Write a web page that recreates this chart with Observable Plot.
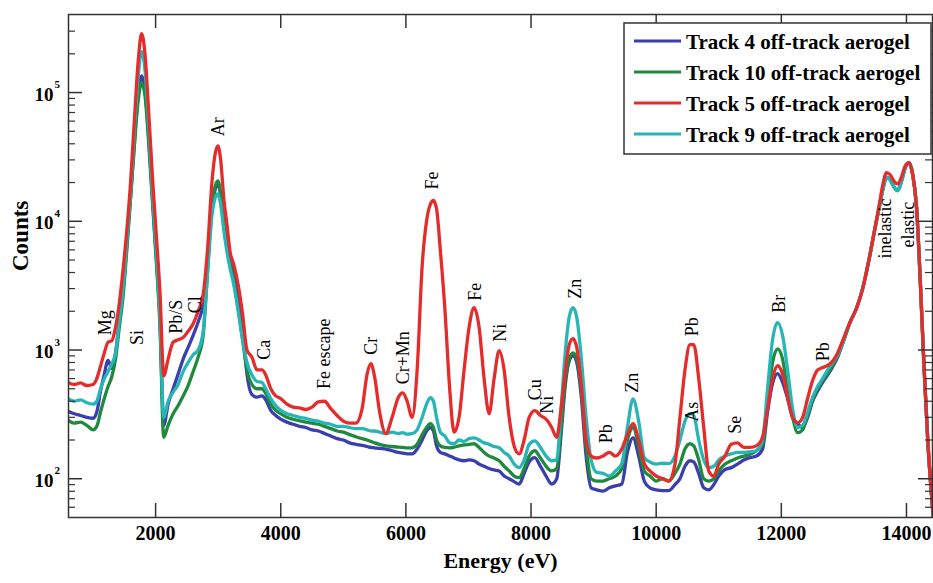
<!DOCTYPE html>
<html>
<head>
<meta charset="utf-8">
<script src="https://cdn.jsdelivr.net/npm/d3@7"></script>
<script src="https://cdn.jsdelivr.net/npm/@observablehq/plot@0.6"></script>
<style>
  html, body { margin: 0; padding: 0; background: #fff; }
  #chart { width: 933px; height: 583px; }
</style>
</head>
<body>
<div id="chart"></div>
<script>
// ---- Data ----
const energy = [
  600, 700, 800, 900, 1000, 1060, 1120, 1180, 1240, 1300,
  1360, 1420, 1480, 1540, 1600, 1660, 1720, 1776, 1830, 1890,
  1950, 2010, 2070, 2130, 2200, 2280, 2360, 2440, 2520, 2600,
  2680, 2760, 2830, 2900, 2950, 2995, 3040, 3090, 3140, 3190,
  3250, 3320, 3390, 3460, 3540, 3620, 3700, 3760, 3840, 3920,
  4000, 4100, 4200, 4300, 4400, 4500, 4600, 4700, 4800, 4900,
  5000, 5100, 5200, 5300, 5380, 5440, 5500, 5580, 5680, 5780,
  5880, 5950, 6020, 6100, 6180, 6260, 6330, 6390, 6440, 6490,
  6550, 6620, 6700, 6770, 6850, 6930, 7010, 7090, 7170, 7250,
  7330, 7410, 7490, 7570, 7650, 7730, 7810, 7890, 7970, 8060,
  8150, 8240, 8330, 8410, 8480, 8550, 8610, 8670, 8730, 8800,
  8880, 8960, 9050, 9150, 9250, 9350, 9450, 9540, 9630, 9720,
  9810, 9900, 10000, 10100, 10200, 10300, 10380, 10460, 10540, 10600,
  10680, 10760, 10840, 10920, 11000, 11100, 11200, 11300, 11400, 11500,
  11600, 11700, 11780, 11860, 11940, 12020, 12100, 12180, 12260, 12340,
  12420, 12500, 12580, 12660, 12740, 12820, 12900, 13000, 13100, 13200,
  13300, 13400, 13480, 13560, 13620, 13680, 13740, 13800, 13860, 13920,
  13980, 14040, 14100, 14160, 14220, 14280, 14340, 14400, 14460
];

// Track 4 off-track aerogel (blue)
const track4 = [
  335, 320, 310, 300, 295, 330, 480, 650, 830, 720,
  950, 1700, 2900, 6500, 15500, 40000, 95000, 135000, 105000, 45000,
  15000, 5300, 1700, 260, 380, 500, 650, 850, 1050, 1300,
  1650, 2300, 5000, 13000, 17500, 19500, 16000, 10000, 7500, 5400,
  4200, 2700, 1500, 650, 450, 430, 440, 410, 340, 310,
  290, 275, 265, 255, 250, 240, 235, 225, 215, 205,
  200, 190, 185, 182, 178, 175, 174, 172, 170, 165,
  160, 158, 156, 156, 170, 200, 235, 250, 235, 180,
  160, 156, 150, 145, 140, 138, 140, 138, 130, 125,
  120, 117, 115, 105, 100, 95, 91, 110, 135, 146,
  125, 105, 91, 100, 220, 550, 820, 900, 800, 450,
  150, 85, 82, 80, 85, 88, 91, 160, 208, 150,
  96, 85, 82, 81, 81, 90, 100, 125, 138, 135,
  110, 85, 82, 90, 105, 118, 122, 130, 140, 146,
  150, 170, 330, 550, 655, 560, 420, 300, 268, 250,
  300, 400, 480, 560, 640, 740, 880, 1200, 1650, 2100,
  3000, 5000, 8000, 12500, 17500, 21900, 21000, 18500, 17300, 20500,
  26000, 28500, 23000, 13000, 3500, 750, 200, 75, 35
];

// Track 10 off-track aerogel (green)
const track10 = [
  285, 270, 275, 260, 240, 255, 330, 420, 520, 620,
  850, 1500, 2600, 6000, 15000, 38000, 85000, 119000, 95000, 40000,
  14000, 5000, 1500, 210, 260, 320, 370, 440, 530, 680,
  880, 1300, 4000, 13000, 18500, 20600, 16500, 10000, 6800, 4800,
  3400, 2100, 1200, 700, 540, 500, 500, 460, 380, 340,
  320, 300, 290, 282, 275, 270, 265, 255, 245, 235,
  230, 220, 212, 205, 200, 195, 190, 185, 180, 178,
  176, 175, 174, 174, 185, 220, 250, 268, 250, 200,
  180, 175, 174, 176, 180, 183, 185, 187, 175, 160,
  150, 145, 138, 125, 115, 105, 102, 120, 150, 165,
  145, 125, 115, 120, 250, 600, 850, 950, 850, 500,
  180, 100, 96, 96, 100, 105, 120, 200, 250, 180,
  115, 105, 96, 100, 96, 110, 130, 170, 187, 180,
  140, 100, 96, 100, 115, 130, 138, 145, 150, 155,
  165, 185, 380, 800, 1020, 850, 480, 300, 228, 240,
  310, 410, 500, 580, 660, 760, 900, 1200, 1650, 2100,
  3000, 5000, 8000, 12500, 17500, 21900, 21000, 18500, 17300, 20500,
  26000, 28500, 23000, 13000, 3500, 750, 200, 75, 35
];

// Track 9 off-track aerogel (cyan)
const track9 = [
  420, 400, 410, 390, 380, 400, 500, 600, 680, 780,
  950, 1700, 3000, 7000, 17000, 50000, 130000, 208000, 150000, 55000,
  17000, 6000, 1800, 300, 400, 470, 540, 680, 800, 920,
  1000, 1400, 4000, 11000, 15000, 16300, 13500, 8500, 5800, 4300,
  3200, 2000, 1200, 800, 640, 570, 560, 500, 420, 370,
  340, 320, 310, 300, 295, 285, 280, 270, 265, 255,
  255, 250, 245, 245, 240, 235, 235, 230, 224, 230,
  225, 228, 222, 224, 240, 300, 380, 427, 400, 300,
  230, 215, 190, 187, 200, 195, 205, 208, 200, 190,
  185, 178, 174, 160, 150, 130, 122, 140, 185, 197,
  175, 150, 138, 140, 350, 1000, 1800, 2130, 1800, 900,
  300, 140, 112, 110, 105, 115, 131, 250, 418, 280,
  146, 135, 130, 132, 131, 150, 200, 280, 320, 310,
  200, 140, 122, 125, 140, 150, 156, 160, 160, 162,
  165, 200, 500, 1200, 1630, 1300, 700, 350, 250, 260,
  330, 430, 520, 600, 700, 800, 920, 1200, 1650, 2100,
  3000, 5000, 8000, 12500, 17500, 21900, 21000, 18500, 17300, 20500,
  26000, 28500, 23000, 13000, 3500, 750, 200, 75, 35
];

// Track 5 off-track aerogel (red)
const track5 = [
  560, 540, 555, 530, 540, 600, 750, 950, 1150, 1180,
  1500, 2300, 4200, 8500, 20000, 60000, 170000, 287000, 200000, 70000,
  22000, 8000, 2800, 630, 850, 1150, 1200, 1250, 1400, 1600,
  2000, 2700, 6000, 20000, 33000, 38600, 30000, 15000, 9500, 5800,
  4600, 3200, 1900, 1000, 880, 700, 700, 640, 500, 440,
  420, 380, 360, 355, 345, 360, 395, 400, 350, 310,
  280, 270, 270, 350, 650, 783, 620, 330, 224, 300,
  430, 465, 400, 300, 700, 4500, 10000, 13500, 14500, 12500,
  6000, 2200, 500, 230, 300, 700, 1500, 2130, 1500, 600,
  320, 600, 990, 700, 300, 180, 156, 200, 300, 338,
  310, 290, 250, 210, 350, 700, 1100, 1225, 1050, 550,
  200, 150, 145, 150, 160, 150, 170, 220, 268, 200,
  131, 115, 105, 100, 96, 130, 300, 700, 1100, 1100,
  600, 250, 115, 105, 130, 150, 185, 190, 175, 175,
  180, 210, 350, 600, 755, 650, 430, 300, 272, 300,
  420, 580, 700, 730, 760, 820, 950, 1250, 1650, 2100,
  3000, 5000, 8000, 13000, 19000, 23900, 23000, 20500, 19500, 22000,
  27000, 28500, 23000, 13000, 3500, 750, 200, 75, 35
];

const seriesNames = ["Track 4 off-track aerogel", "Track 10 off-track aerogel", "Track 5 off-track aerogel", "Track 9 off-track aerogel"];
const seriesColors = ["#3b3fae", "#1f8a3e", "#e62b2b", "#28b5b7"];
const drawOrder = [0, 1, 3, 2]; // blue, green, cyan, red on top

const xTicks = [2000, 4000, 6000, 8000, 10000, 12000, 14000];
const yMajor = [1e2, 1e3, 1e4, 1e5];
const yMinor = [60, 70, 80, 90, 200, 300, 400, 500, 600, 700, 800, 900,
  2000, 3000, 4000, 5000, 6000, 7000, 8000, 9000,
  20000, 30000, 40000, 50000, 60000, 70000, 80000, 90000, 200000, 300000];

const peakLabels = ["Mg", "Si", "Pb/S", "Cl", "Ar", "Ca", "Fe escape", "Cr", "Cr+Mn", "Fe", "Fe", "Ni", "Cu", "Ni", "Zn", "Pb", "Zn", "Pb", "As", "Se", "Br", "Pb", "inelastic", "elastic"];
const peakEnergy = [1200, 1712, 2336, 2640, 3008, 3744, 4688, 5440, 5952, 6416, 7104, 7504, 8064, 8256, 8704, 9200, 9616, 10576, 10576, 11264, 11968, 12672, 13664, 14032];
const peakCounts = [1630, 1250, 1815, 2250, 54300, 1005, 935, 1080, 871, 20700, 2840, 1360, 492, 376, 2990, 224, 557, 1518, 331, 263, 2290, 970, 8770, 9420];

// ---- Build tables ----
const seriesValues = [track4, track10, track5, track9];
seriesValues.forEach((arr, k) => {
  if (arr.length !== energy.length) throw new Error("length mismatch in series " + k + ": " + arr.length + " vs " + energy.length);
});
const rows = [];
for (const k of drawOrder) {
  energy.forEach((e, i) => rows.push({E: e, C: seriesValues[k][i], s: seriesNames[k]}));
}
const labels = peakLabels.map((t, i) => ({t, E: peakEnergy[i], C: peakCounts[i]}));

// ---- Layout ----
const W = 933, H = 583;
const mL = 68, mT = 14, mR = 1, mB = 66;
const fW = W - mL - mR, fH = H - mT - mB;
const ink = "#333";

const chart = Plot.plot({
  width: W, height: H,
  marginLeft: mL, marginTop: mT, marginRight: mR, marginBottom: mB,
  style: {fontFamily: "'Liberation Serif', 'Times New Roman', serif", fontWeight: "bold", background: "white", color: "black"},
  x: {domain: [608, 14416], axis: null},
  y: {type: "log", domain: [50, 404000], axis: null},
  color: {domain: seriesNames, range: seriesColors},
  marks: [
    Plot.line(rows, {x: "E", y: "C", z: "s", stroke: "s", strokeWidth: 3.3, clip: true, curve: "monotone-x", strokeLinejoin: "round"}),
    Plot.text(labels, {x: "E", y: "C", text: "t", rotate: -90, fontSize: 18, fontWeight: "normal", fill: "black"}),
    // inward ticks
    Plot.tickX(xTicks, {x: d => d, insetTop: fH - 14, stroke: ink, strokeWidth: 1.5}),
    Plot.tickX(xTicks, {x: d => d, insetBottom: fH - 14, stroke: ink, strokeWidth: 1.5}),
    Plot.tickY(yMajor, {y: d => d, insetRight: fW - 14, stroke: ink, strokeWidth: 1.5}),
    Plot.tickY(yMinor, {y: d => d, insetRight: fW - 7, stroke: ink, strokeWidth: 1.2}),
    Plot.tickY(yMajor, {y: d => d, insetLeft: fW - 14, stroke: ink, strokeWidth: 1.5}),
    Plot.tickY(yMinor, {y: d => d, insetLeft: fW - 7, stroke: ink, strokeWidth: 1.2}),
    Plot.frame({stroke: ink, strokeWidth: 1.5}),
    // tick labels
    Plot.text(xTicks, {x: d => d, frameAnchor: "bottom", dy: 22, text: d => String(d), fontSize: 20, fill: "black"}),
    Plot.text(yMajor, {y: d => d, frameAnchor: "left", dx: -15, dy: 2, text: () => "10", textAnchor: "end", fontSize: 19, fill: "black"}),
    Plot.text(yMajor, {y: d => d, frameAnchor: "left", dx: -14, dy: -8, text: d => String(Math.round(Math.log10(d))), textAnchor: "start", fontSize: 11, fill: "black"}),
    // axis titles
    Plot.text(["Energy (eV)"], {frameAnchor: "bottom", dy: 50, text: d => d, fontSize: 22, fill: "black"}),
    Plot.text(["Counts"], {frameAnchor: "left", dx: -48, dy: 5, rotate: -90, text: d => d, fontSize: 23, fill: "black"})
  ]
});
document.getElementById("chart").appendChild(chart);

// ---- Legend (inside the plot, top right) ----
const svg = d3.select(chart);
const lg = svg.append("g")
  .attr("font-family", "'Liberation Serif', 'Times New Roman', serif")
  .attr("font-weight", "bold")
  .attr("text-anchor", "start");
lg.append("rect").attr("x", 624).attr("y", 23).attr("width", 307).attr("height", 131)
  .attr("fill", "white").attr("stroke", ink).attr("stroke-width", 1.5);
seriesNames.forEach((name, i) => {
  const y = 41 + i * 31;
  lg.append("line").attr("x1", 634).attr("x2", 681).attr("y1", y).attr("y2", y)
    .attr("stroke", seriesColors[i]).attr("stroke-width", 3);
  lg.append("text").attr("x", 686).attr("y", y + 8).attr("font-size", 21)
    .attr("text-anchor", "start").attr("fill", "black").text(name);
});
</script>
</body>
</html>
